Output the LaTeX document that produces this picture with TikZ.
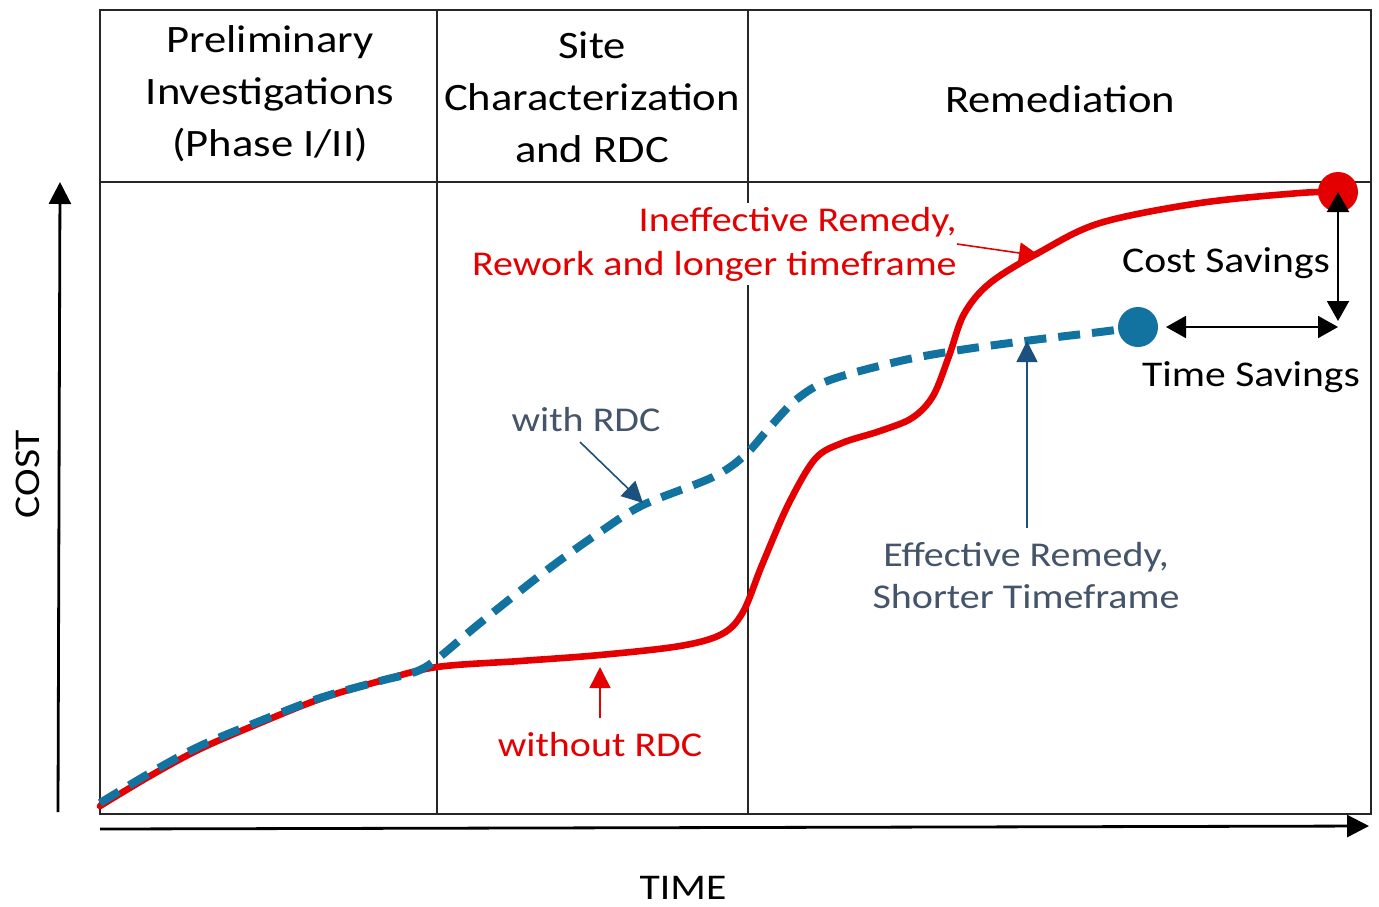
\documentclass[tikz,border=0pt]{standalone}
\usepackage{fontspec}
\setmainfont[FakeStretch=1.15]{Carlito}
\usetikzlibrary{arrows.meta}
\definecolor{rdc}{RGB}{228,0,0}
\definecolor{bluec}{RGB}{18,114,160}
\definecolor{slate}{RGB}{68,84,106}
\definecolor{darkb}{RGB}{28,80,126}
\tikzset{
  boxline/.style={draw=black!85, line width=1.1pt},
  axisline/.style={draw=black, line width=1.4pt, -{Triangle[length=11pt,width=11pt]}},
  hdr/.style={align=center, inner sep=0pt, font=\fontsize{19.4pt}{26pt}\selectfont},
  lbl/.style={inner sep=0pt, font=\fontsize{17.4pt}{22pt}\selectfont},
  blbl/.style={inner sep=0pt, font=\fontsize{18.1pt}{22pt}\selectfont},
  redline/.style={draw=rdc, line width=3.3pt, line cap=round},
  blueline/.style={draw=bluec, line width=4pt, dash pattern=on 11pt off 6pt},
  dot/.style={circle, inner sep=0pt, minimum size=20pt},
  annot/.style={line width=0.8pt, -{Triangle[length=10.5pt,width=10.5pt]}},
  dbl/.style={line width=1pt, {Triangle[length=10pt,width=11pt]}-{Triangle[length=10pt,width=11pt]}}
}
\begin{document}
\begin{tikzpicture}[x=0.5pt,y=-0.5pt]
\useasboundingbox (0,0) rectangle (1379,906);
\fill[white] (0,0) rectangle (1379,906);
% frame
\draw[boxline] (100,10) rectangle (1371,814);
\draw[boxline] (100,182) -- (1371,182);
\draw[boxline] (437,10) -- (437,814);
\draw[boxline] (748,10) -- (748,814);
% headers
\node[hdr] (h1) at (270,94) {Preliminary\\Investigations\\(Phase I/II)};
\node[hdr] (h2) at (592,97) {Site\\Characterization\\and RDC};
\node[hdr] (h3) at (1060,99) {Remediation};
% axes
\coordinate (t0) at (100,829);
\coordinate (t1) at (1369,826);
\draw[axisline] (t0) -- (t1);
\coordinate (c0) at (58,812);
\coordinate (c1) at (60,182);
\draw[axisline] (c0) -- (c1);
\node[blbl, rotate=90] (cost) at (28,474) {COST};
\node[blbl] (time) at (683,888) {TIME};
% curves
\draw[redline] plot[smooth, tension=0.55] coordinates {(100,806) (150,776) (200,749) (260,723) (320,699) (380,681) (437,667) (520,661) (600,655) (680,646) (722,634) (743,612) (762,565) (788,505) (815,459) (842,443) (880,431) (912,418) (933,396) (949,356) (964,314) (990,283) (1040,252) (1100,223) (1200,203) (1300,193) (1338,192)};
\draw[blueline] plot[smooth, tension=0.55] coordinates {(100,803) (150,773) (200,746) (260,721) (320,698) (380,681) (415,672) (437,659) (480,623) (547,570) (600,532) (643,505) (713,477) (745,455) (770,427) (797,399) (830,380) (900,361) (960,350) (1033,340) (1100,332) (1138,327)};
\node[dot, fill=rdc] (rdot) at (1338,192) {};
\node[dot, fill=bluec] (bdot) at (1138,327) {};
% labels
\node[lbl, text=rdc, align=right, anchor=east, fill=white, inner xsep=0pt, inner ysep=2pt] (ineff) at (957,244) {Ineffective Remedy,\\Rework and longer timeframe};
\node[lbl, text=slate] (with) at (586,420) {with RDC};
\node[lbl, text=rdc] (without) at (600,745) {without RDC};
\node[lbl, text=slate, align=center, font=\fontsize{17.4pt}{21pt}\selectfont] (eff) at (1026,576) {Effective Remedy,\\Shorter Timeframe};
\node[blbl] (cs) at (1226,263) {Cost Savings};
\node[blbl] (ts) at (1251,377) {Time Savings};
% annotation arrows
\coordinate (ineffT) at (1040,256);
\draw[annot, draw=rdc, fill=rdc] (ineff.east) -- (ineffT);
\coordinate (wA) at (580,442);
\coordinate (wB) at (643,503);
\draw[annot, draw=darkb, fill=darkb] (wA) -- (wB);
\coordinate (woA) at (600,718);
\coordinate (woB) at (600,667);
\draw[annot, draw=rdc, fill=rdc] (woA) -- (woB);
\coordinate (eA) at (1027,528);
\coordinate (eB) at (1027,341);
\draw[annot, draw=darkb, fill=darkb] (eA) -- (eB);
% savings arrows
\coordinate (corner) at (1338,321);
\draw[dbl] (corner) -- (rdot.center);
\coordinate (tsL) at (1166,327);
\coordinate (tsR) at (1338,327);
\draw[dbl] (tsL) -- (tsR);
\end{tikzpicture}
\end{document}
